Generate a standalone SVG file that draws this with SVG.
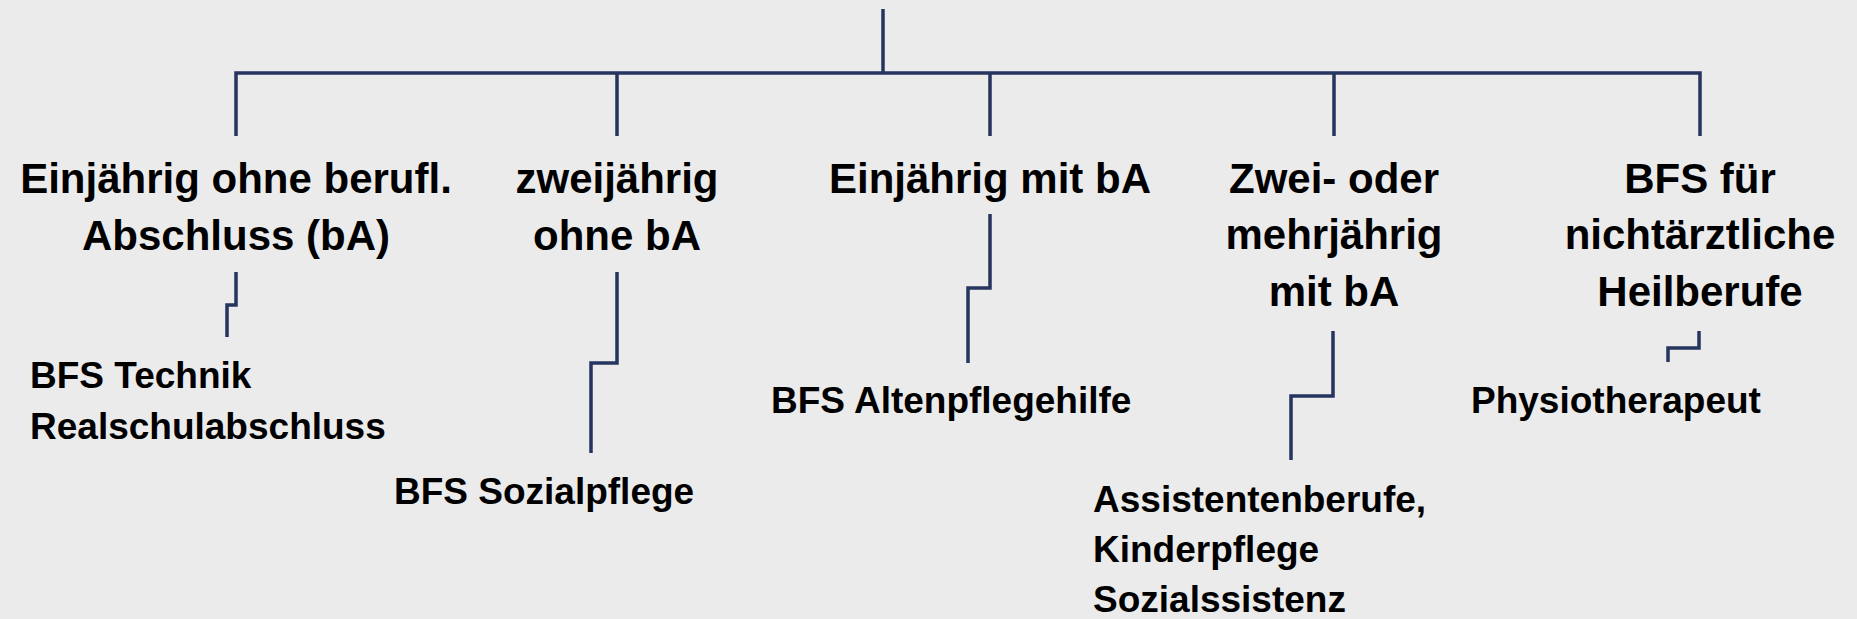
<svg xmlns="http://www.w3.org/2000/svg" width="1857" height="619" viewBox="0 0 1857 619">
<style>
.h{font-family:"Liberation Sans",Arial,sans-serif;font-weight:bold;font-size:42px;fill:#000;text-anchor:middle}
.s{font-family:"Liberation Sans",Arial,sans-serif;font-weight:bold;font-size:37px;fill:#000}
.c{fill:none;stroke:#26355f;stroke-width:3.5}
</style>
<rect width="1857" height="619" fill="#ebebeb"/>
<g id="connectors" class="c">
<path d="M883 9V73"/>
<path d="M236 136V73H1700V136"/>
<path d="M617 73V136M990 73V136M1334 73V136"/>
<path d="M236 272V305H227V337"/>
<path d="M617 272V363H591V453"/>
<path d="M990 214V288H968V363"/>
<path d="M1333 331V396H1291V460"/>
<path d="M1699 331V348H1668V362"/>
</g>
<g id="n1"><text class="h" x="236" y="193">Einjährig ohne berufl.</text><text class="h" x="236" y="250">Abschluss (bA)</text></g>
<g id="n2"><text class="h" x="617" y="193">zweijährig</text><text class="h" x="617" y="250">ohne bA</text></g>
<g id="n3"><text class="h" x="990" y="193">Einjährig mit bA</text></g>
<g id="n4"><text class="h" x="1334" y="193">Zwei- oder</text><text class="h" x="1334" y="249">mehrjährig</text><text class="h" x="1334" y="306">mit bA</text></g>
<g id="n5"><text class="h" x="1700" y="193">BFS für</text><text class="h" x="1700" y="249">nichtärztliche</text><text class="h" x="1700" y="306">Heilberufe</text></g>
<g id="s1"><text class="s" x="30" y="388">BFS Technik</text><text class="s" x="30" y="439">Realschulabschluss</text></g>
<g id="s2"><text class="s" x="394" y="504">BFS Sozialpflege</text></g>
<g id="s3"><text class="s" x="771" y="413">BFS Altenpflegehilfe</text></g>
<g id="s4"><text class="s" x="1093" y="512">Assistentenberufe,</text><text class="s" x="1093" y="562">Kinderpflege</text><text class="s" x="1093" y="612">Sozialssistenz</text></g>
<g id="s5"><text class="s" x="1471" y="413">Physiotherapeut</text></g>
</svg>
